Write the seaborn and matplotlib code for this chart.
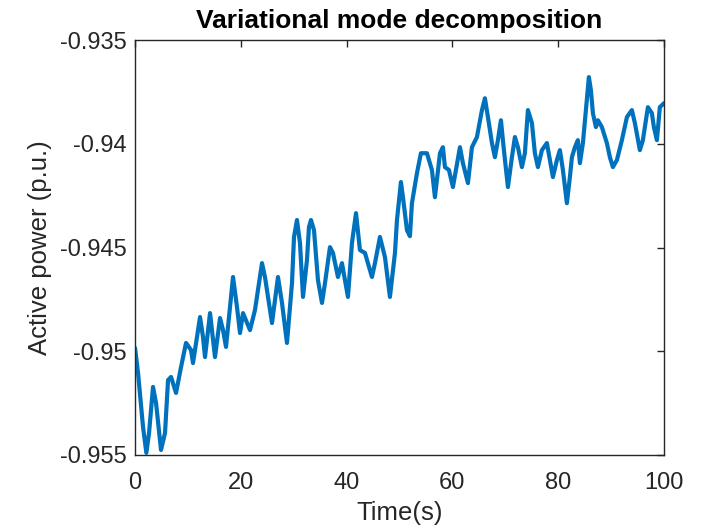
import matplotlib
matplotlib.use("Agg")
import matplotlib.pyplot as plt
import numpy as np
import pandas as pd
import seaborn as sns

# Time axis (s) and active power (p.u.) of the reconstructed signal
time_s = [0.00, 0.57, 1.51, 2.14, 2.65, 3.40, 3.97, 4.91, 5.67, 6.24, 6.81, 7.75,
          8.70, 9.64, 10.59, 10.96, 12.29, 12.85, 13.23, 14.18, 15.12, 16.07, 16.64,
          17.20, 18.53, 19.28, 19.85, 20.42, 21.74, 22.68, 24.01, 24.57, 25.90, 27.03,
          27.79, 28.73, 29.68, 30.06, 30.62, 31.19, 31.76, 32.51, 32.89, 33.27, 33.84,
          34.59, 35.35, 35.92, 36.86, 37.43, 38.37, 39.13, 40.26, 41.02, 41.78, 42.53,
          43.48, 44.80, 45.37, 46.31, 47.26, 48.20, 49.15, 49.53, 50.28, 50.66, 51.42,
          51.98, 52.36, 53.31, 54.06, 55.20, 56.14, 56.71, 57.66, 58.22, 58.60, 59.36,
          60.11, 61.44, 62.00, 62.95, 63.71, 64.65, 65.60, 66.16, 66.73, 67.49, 68.05,
          68.62, 69.19, 69.75, 70.51, 71.27, 71.83, 72.40, 73.16, 73.72, 74.29, 75.05,
          75.61, 76.18, 76.94, 77.88, 78.45, 79.02, 79.77, 80.34, 80.91, 81.66, 82.23,
          82.61, 83.18, 83.74, 84.12, 84.69, 85.26, 85.82, 86.20, 86.58, 87.15, 87.52,
          88.28, 89.22, 89.79, 90.36, 91.12, 92.06, 93.01, 93.95, 94.52, 95.46, 96.03,
          96.98, 97.73, 98.11, 98.68, 99.24, 100.00]

active_power = [-0.94984, -0.95105, -0.95365, -0.95490, -0.95394, -0.95172, -0.95249,
                -0.95476, -0.95394, -0.95139, -0.95124, -0.95201, -0.95076, -0.94960,
                -0.94994, -0.95057, -0.94835, -0.94931, -0.95028, -0.94816, -0.95028,
                -0.94840, -0.94898, -0.94979, -0.94642, -0.94787, -0.94912, -0.94816,
                -0.94898, -0.94801, -0.94575, -0.94642, -0.94864, -0.94642, -0.94767,
                -0.94960, -0.94671, -0.94449, -0.94367, -0.94478, -0.94738, -0.94560,
                -0.94401, -0.94367, -0.94416, -0.94657, -0.94767, -0.94671, -0.94498,
                -0.94526, -0.94642, -0.94575, -0.94738, -0.94478, -0.94334, -0.94512,
                -0.94526, -0.94642, -0.94575, -0.94449, -0.94546, -0.94738, -0.94526,
                -0.94367, -0.94184, -0.94257, -0.94416, -0.94445, -0.94286, -0.94141,
                -0.94045, -0.94045, -0.94126, -0.94257, -0.94045, -0.94016, -0.94112,
                -0.94126, -0.94208, -0.94016, -0.94093, -0.94189, -0.94016, -0.93967,
                -0.93837, -0.93780, -0.93871, -0.93996, -0.94064, -0.93982, -0.93886,
                -0.94030, -0.94208, -0.94064, -0.93967, -0.94016, -0.94112, -0.94045,
                -0.93837, -0.93900, -0.94045, -0.94112, -0.94030, -0.93996, -0.94078,
                -0.94160, -0.94078, -0.94030, -0.94126, -0.94286, -0.94160, -0.94064,
                -0.94016, -0.93982, -0.94093, -0.93996, -0.93837, -0.93678, -0.93741,
                -0.93852, -0.93919, -0.93886, -0.93919, -0.93996, -0.94064, -0.94112,
                -0.94078, -0.93982, -0.93871, -0.93837, -0.93900, -0.94030, -0.93982,
                -0.93823, -0.93852, -0.93919, -0.93982, -0.93823, -0.93804]

x_ticks = [0, 20, 40, 60, 80, 100]
y_ticks = [-0.955, -0.95, -0.945, -0.94, -0.935]
y_tick_labels = ["-0.955", "-0.95", "-0.945", "-0.94", "-0.935"]

df = pd.DataFrame({"t": time_s, "p": active_power})

sns.set_theme(style="white")
plt.rcParams["font.family"] = ["Liberation Sans", "DejaVu Sans"]
plt.rcParams["axes.unicode_minus"] = False

dark = "#262626"
fig = plt.figure(figsize=(7.07, 5.29), dpi=100)
ax = fig.add_axes([0.191, 0.140, 0.748, 0.784])

sns.lineplot(data=df, x="t", y="p", ax=ax, color="#0072BD", linewidth=3.0,
             estimator=None, sort=False, solid_joinstyle="round")

ax.set_xlim(0, 100)
ax.set_ylim(-0.955, -0.935)
ax.set_xticks(x_ticks)
ax.set_xticklabels([str(v) for v in x_ticks])
ax.set_yticks(y_ticks)
ax.set_yticklabels(y_tick_labels)

ax.tick_params(axis="both", which="both", direction="in", length=5, width=1,
               colors=dark, labelsize=17, top=True, right=True,
               labeltop=False, labelright=False)
ax.tick_params(axis="x", pad=12)
ax.tick_params(axis="y", pad=6)

for spine in ax.spines.values():
    spine.set_visible(True)
    spine.set_color(dark)
    spine.set_linewidth(1)

ax.set_xlabel("Time(s)", fontsize=18.5, color=dark, labelpad=5)
ax.set_ylabel("Active power (p.u.)", fontsize=18.5, color=dark, labelpad=6)
ax.set_title("Variational mode decomposition", fontsize=19, fontweight="bold",
             color="black", pad=9)

fig.savefig("out.png", dpi=100)
